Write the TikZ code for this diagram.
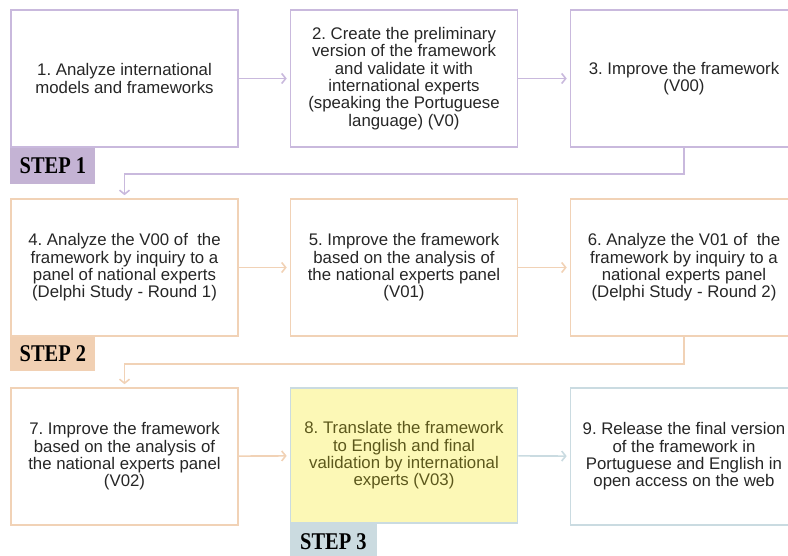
\documentclass[tikz,border=0pt]{standalone}
\usepackage{fontspec}
\setmainfont{Liberation Sans}
\newfontfamily\stepfont[FakeStretch=0.85]{Liberation Serif}
\usetikzlibrary{arrows.meta}
\definecolor{purpline}{HTML}{C9B9DD}
\definecolor{purpfill}{HTML}{C4B3D4}
\definecolor{peachline}{HTML}{F1D2B6}
\definecolor{peachfill}{HTML}{F1D0B3}
\definecolor{blueline}{HTML}{CADBE1}
\definecolor{bluefill}{HTML}{CBDBE0}
\definecolor{yellowfill}{HTML}{FCF8B6}
\definecolor{olivetext}{HTML}{5C581C}
\frenchspacing
\begin{document}
\begin{tikzpicture}[x=1pt,y=-1pt,
    box/.style={draw=#1, line width=1.6pt, minimum width=227pt, minimum height=137pt,
        inner sep=0pt, align=center, text=black!85, font=\fontsize{16.8}{17.3}\selectfont},
    steplabel/.style={fill=#1, anchor=north west, minimum width=85pt, minimum height=36pt,
        inner sep=0pt, font=\stepfont\bfseries\fontsize{24}{24}\selectfont},
    link/.style={draw=#1, line width=1.6pt, -{Straight Barb[length=4pt,width=10pt]}, shorten >=3pt}]
    \useasboundingbox (0,0) rectangle (788,556);
    \clip (0,0) rectangle (788,556);

    % step 1
    \node[box=purpline] (b1) at (124.5,78.5) {1. Analyze international\\models and frameworks};
    \node[box=purpline] (b2) at (404,78.5) {2. Create the preliminary\\version of the framework\\and validate it with\\international experts\\(speaking the Portuguese\\language) (V0)};
    \node[box=purpline] (b3) at (684,78.5) {3. Improve the framework\\(V00)};
    \node[steplabel=purpfill] (s1) at (b1.south west) {STEP 1};

    % step 2
    \node[box=peachline] (b4) at (124.5,267.5) {4. Analyze the V00 of \ the\\framework by inquiry to a\\panel of national experts\\(Delphi Study - Round 1)};
    \node[box=peachline] (b5) at (404,267.5) {5. Improve the framework\\based on the analysis of\\the national experts panel\\(V01)};
    \node[box=peachline] (b6) at (684,267.5) {6. Analyze the V01 of \ the\\framework by inquiry to a\\national experts panel\\(Delphi Study - Round 2)};
    \node[steplabel=peachfill, minimum height=34pt] (s2) at (b4.south west) {STEP 2};

    % step 3
    \node[box=peachline] (b7) at (124.5,456.5) {7. Improve the framework\\based on the analysis of\\the national experts panel\\(V02)};
    \node[box=blueline, fill=yellowfill, text=olivetext, minimum height=135pt] (b8) at (404,455.5) {8. Translate the framework\\to English and final\\validation by international\\experts (V03)};
    \node[box=blueline] (b9) at (684,456.5) {9. Release the final version\\of the framework in\\Portuguese and English in\\open access on the web};
    \node[steplabel=bluefill, minimum width=87pt] (s3) at (b8.south west) {STEP 3};

    \draw[link=purpline] (b1) -- (b2);
    \draw[link=purpline] (b2) -- (b3);
    \draw[link=purpline] (b3.south) -- ++(0,26) -| (b4.north);
    \draw[link=peachline] (b4) -- (b5);
    \draw[link=peachline] (b5) -- (b6);
    \draw[link=peachline] (b6.south) -- ++(0,27) -| (b7.north);
    \draw[link=peachline] (b7) -- (b8);
    \draw[link=blueline] (b8) -- (b9);
\end{tikzpicture}
\end{document}
